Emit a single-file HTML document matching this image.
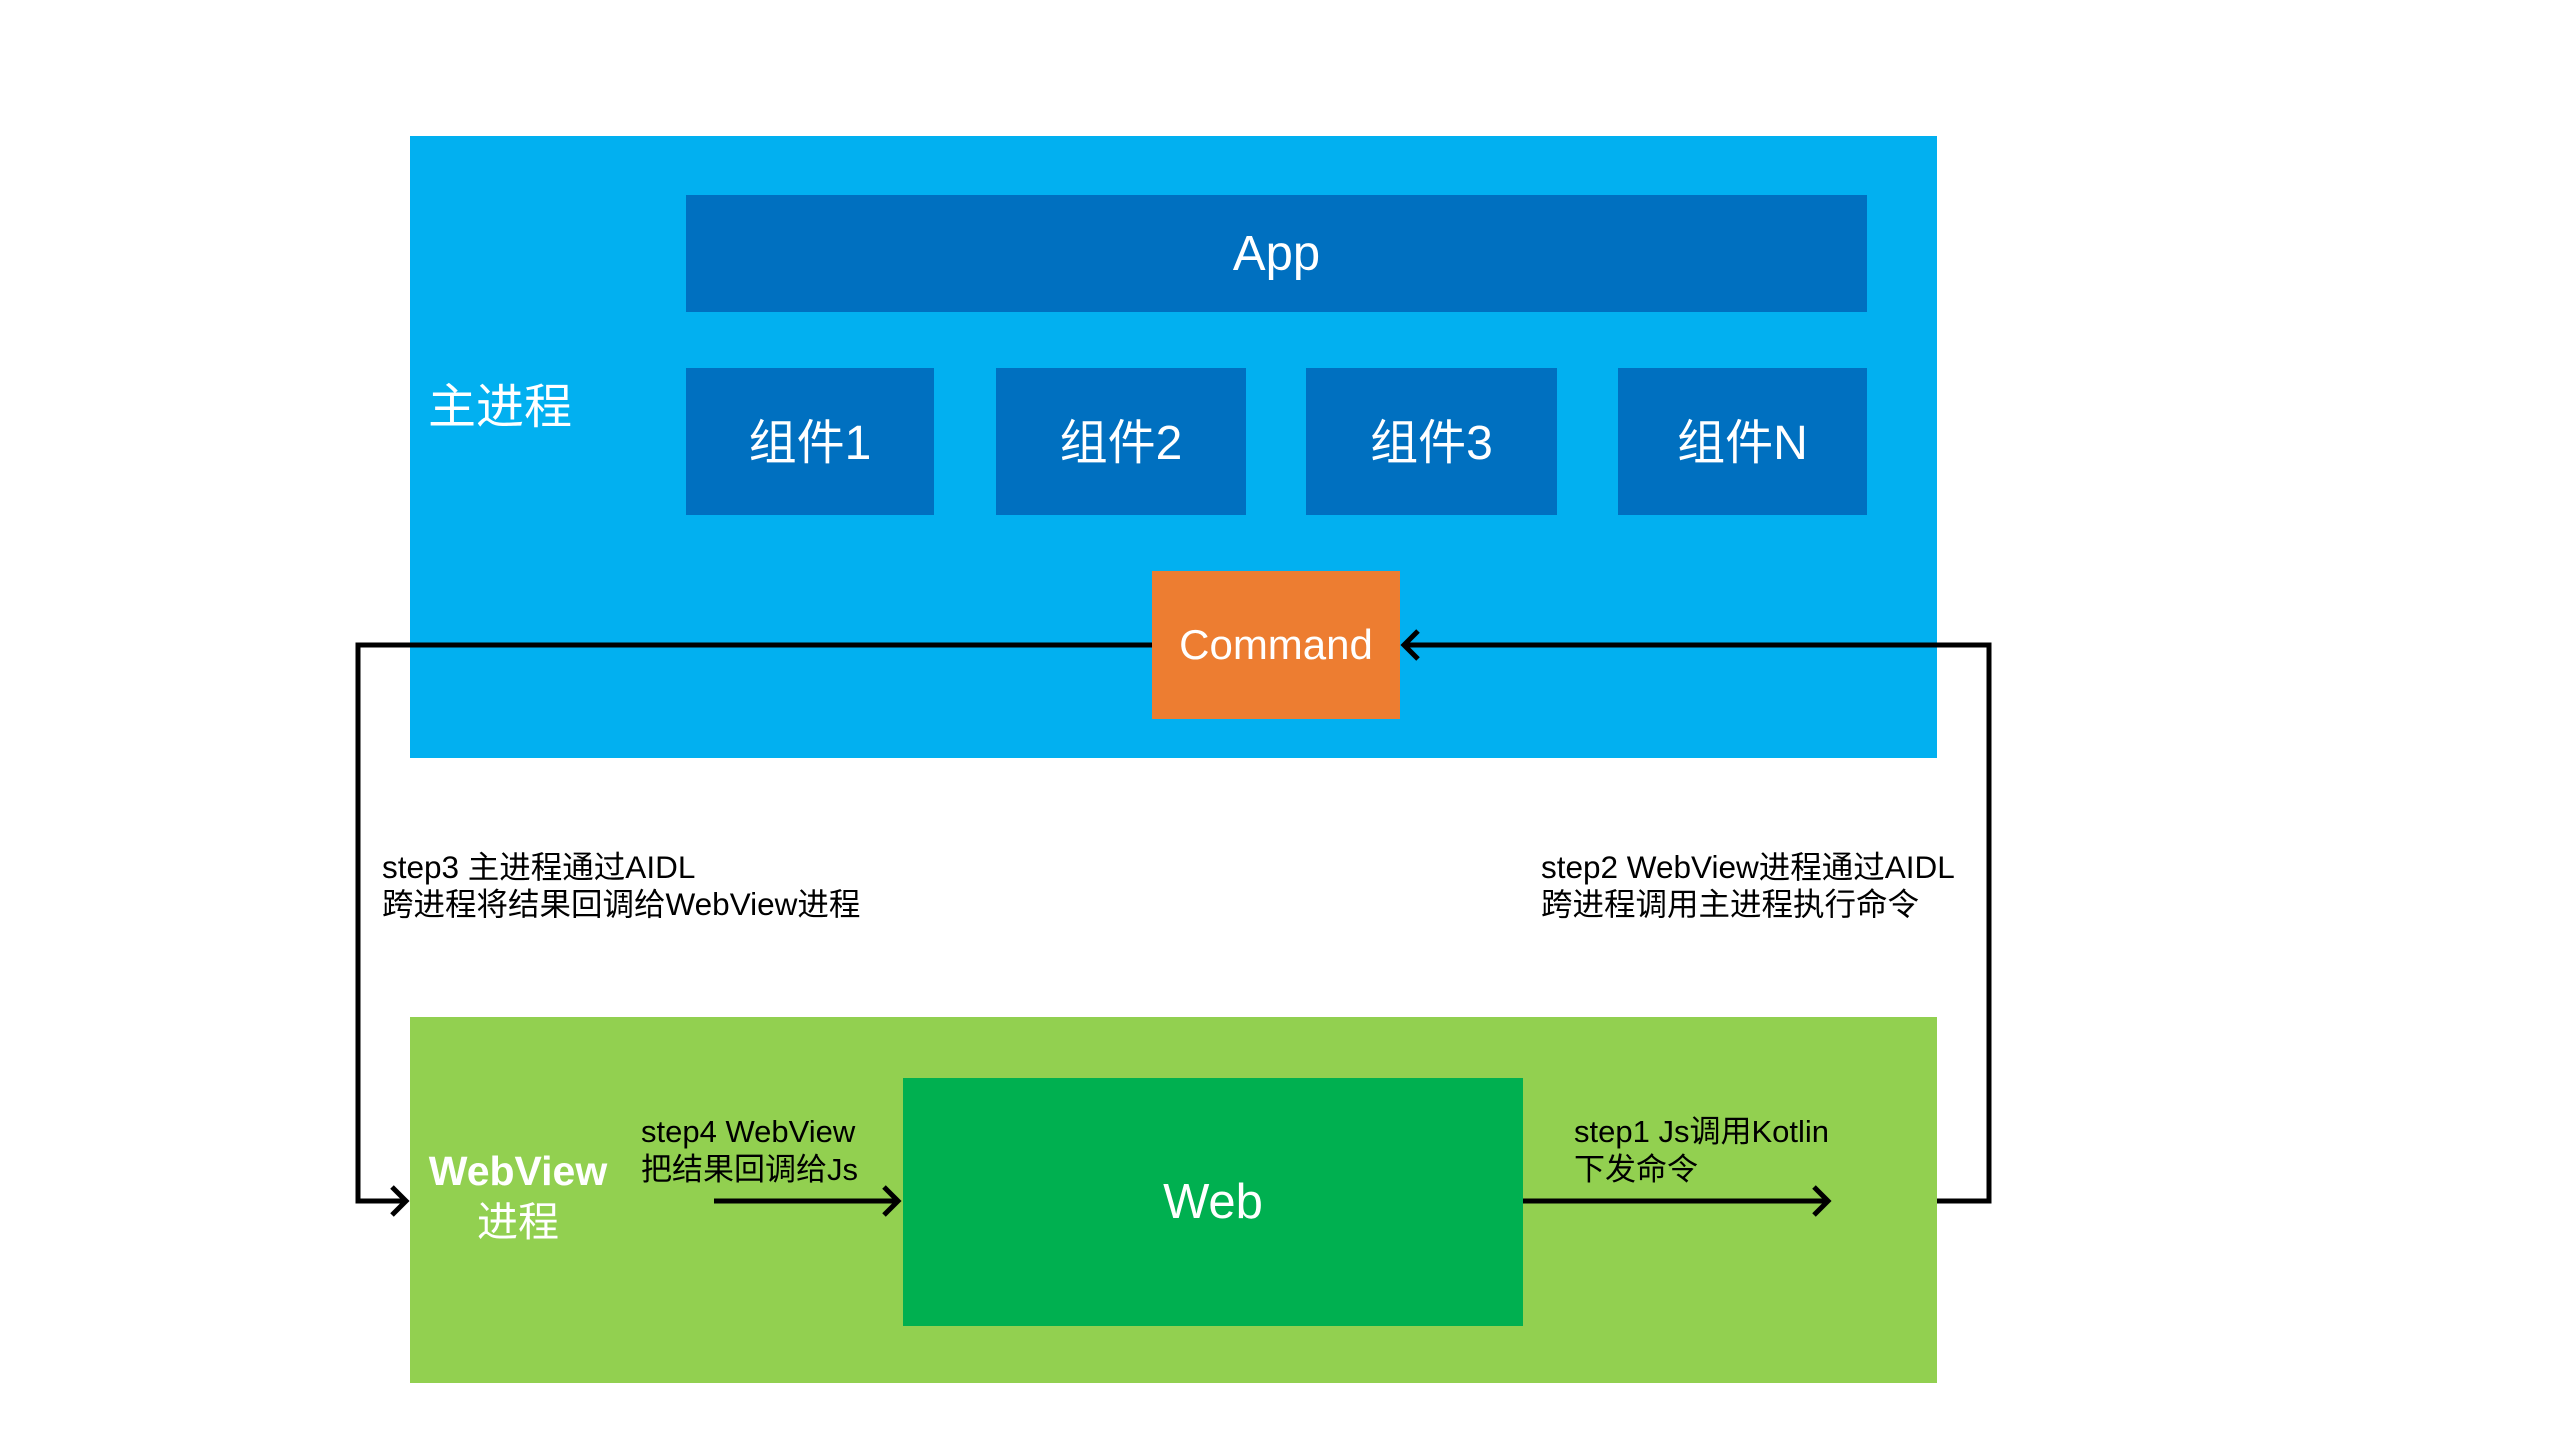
<!DOCTYPE html>
<html><head><meta charset="utf-8"><style>
html,body{margin:0;padding:0;background:#fff;}
body{width:2560px;height:1440px;position:relative;overflow:hidden;font-family:"Liberation Sans","Noto Sans CJK SC",sans-serif;}
.b{position:absolute;display:flex;align-items:center;justify-content:center;color:#fff;}
.t{position:absolute;white-space:nowrap;}
</style></head><body>
<div class="b" style="left:410px;top:136px;width:1527px;height:622px;background:#02B0F0;"></div>
<div class="b" style="left:686px;top:195px;width:1181px;height:117px;background:#0070C0;font-size:49px;">App</div>
<div class="b" style="left:686px;top:368px;width:248px;height:140px;padding-bottom:7px;background:#0070C0;font-size:48px;">组件1</div>
<div class="b" style="left:996px;top:368px;width:250px;height:140px;padding-bottom:7px;background:#0070C0;font-size:48px;">组件2</div>
<div class="b" style="left:1306px;top:368px;width:251px;height:140px;padding-bottom:7px;background:#0070C0;font-size:48px;">组件3</div>
<div class="b" style="left:1618px;top:368px;width:249px;height:140px;padding-bottom:7px;background:#0070C0;font-size:48px;">组件N</div>
<div class="t" style="left:428px;top:367px;font-size:48px;color:#fff;">主进程</div>
<div style="position:absolute;left:410px;top:1017px;width:1527px;height:366px;background:#92D050;"></div>
<div class="b" style="left:903px;top:1078px;width:620px;height:248px;background:#00B050;font-size:49px;">Web</div>
<svg width="2560" height="1440" style="position:absolute;left:0;top:0;">
<g stroke="#000" stroke-width="5" fill="none">
<polyline points="1152,645 358,645 358,1201 405,1201"/>
<polyline points="1937,1201 1989,1201 1989,645 1405,645"/>
<line x1="714" y1="1201" x2="898" y2="1201"/>
<line x1="1523" y1="1201" x2="1828" y2="1201"/>
<polyline points="392,1187 406,1201 392,1215"/>
<polyline points="884,1187 898,1201 884,1215"/>
<polyline points="1814,1187 1828,1201 1814,1215"/>
<polyline points="1418,631 1404,645 1418,659"/>
</g></svg>
<div class="b" style="left:1152px;top:571px;width:248px;height:148px;background:#ED7D31;font-size:42px;">Command</div>
<div class="t" style="left:382px;top:849px;font-size:31.5px;line-height:37px;color:#000;">step3 主进程通过AIDL<br>跨进程将结果回调给WebView进程</div>
<div class="t" style="left:1541px;top:849px;font-size:31.5px;line-height:37px;color:#000;">step2 WebView进程通过AIDL<br>跨进程调用主进程执行命令</div>
<div class="t" style="left:641px;top:1113px;font-size:31px;line-height:38px;color:#000;">step4 WebView<br>把结果回调给Js</div>
<div class="t" style="left:1574px;top:1113px;font-size:31px;line-height:38px;color:#000;">step1 Js调用Kotlin<br>下发命令</div>
<div class="t" style="left:418px;top:1146px;width:200px;text-align:center;font-size:41px;line-height:51px;color:#fff;"><b>WebView</b><br>进程</div>
</body></html>
